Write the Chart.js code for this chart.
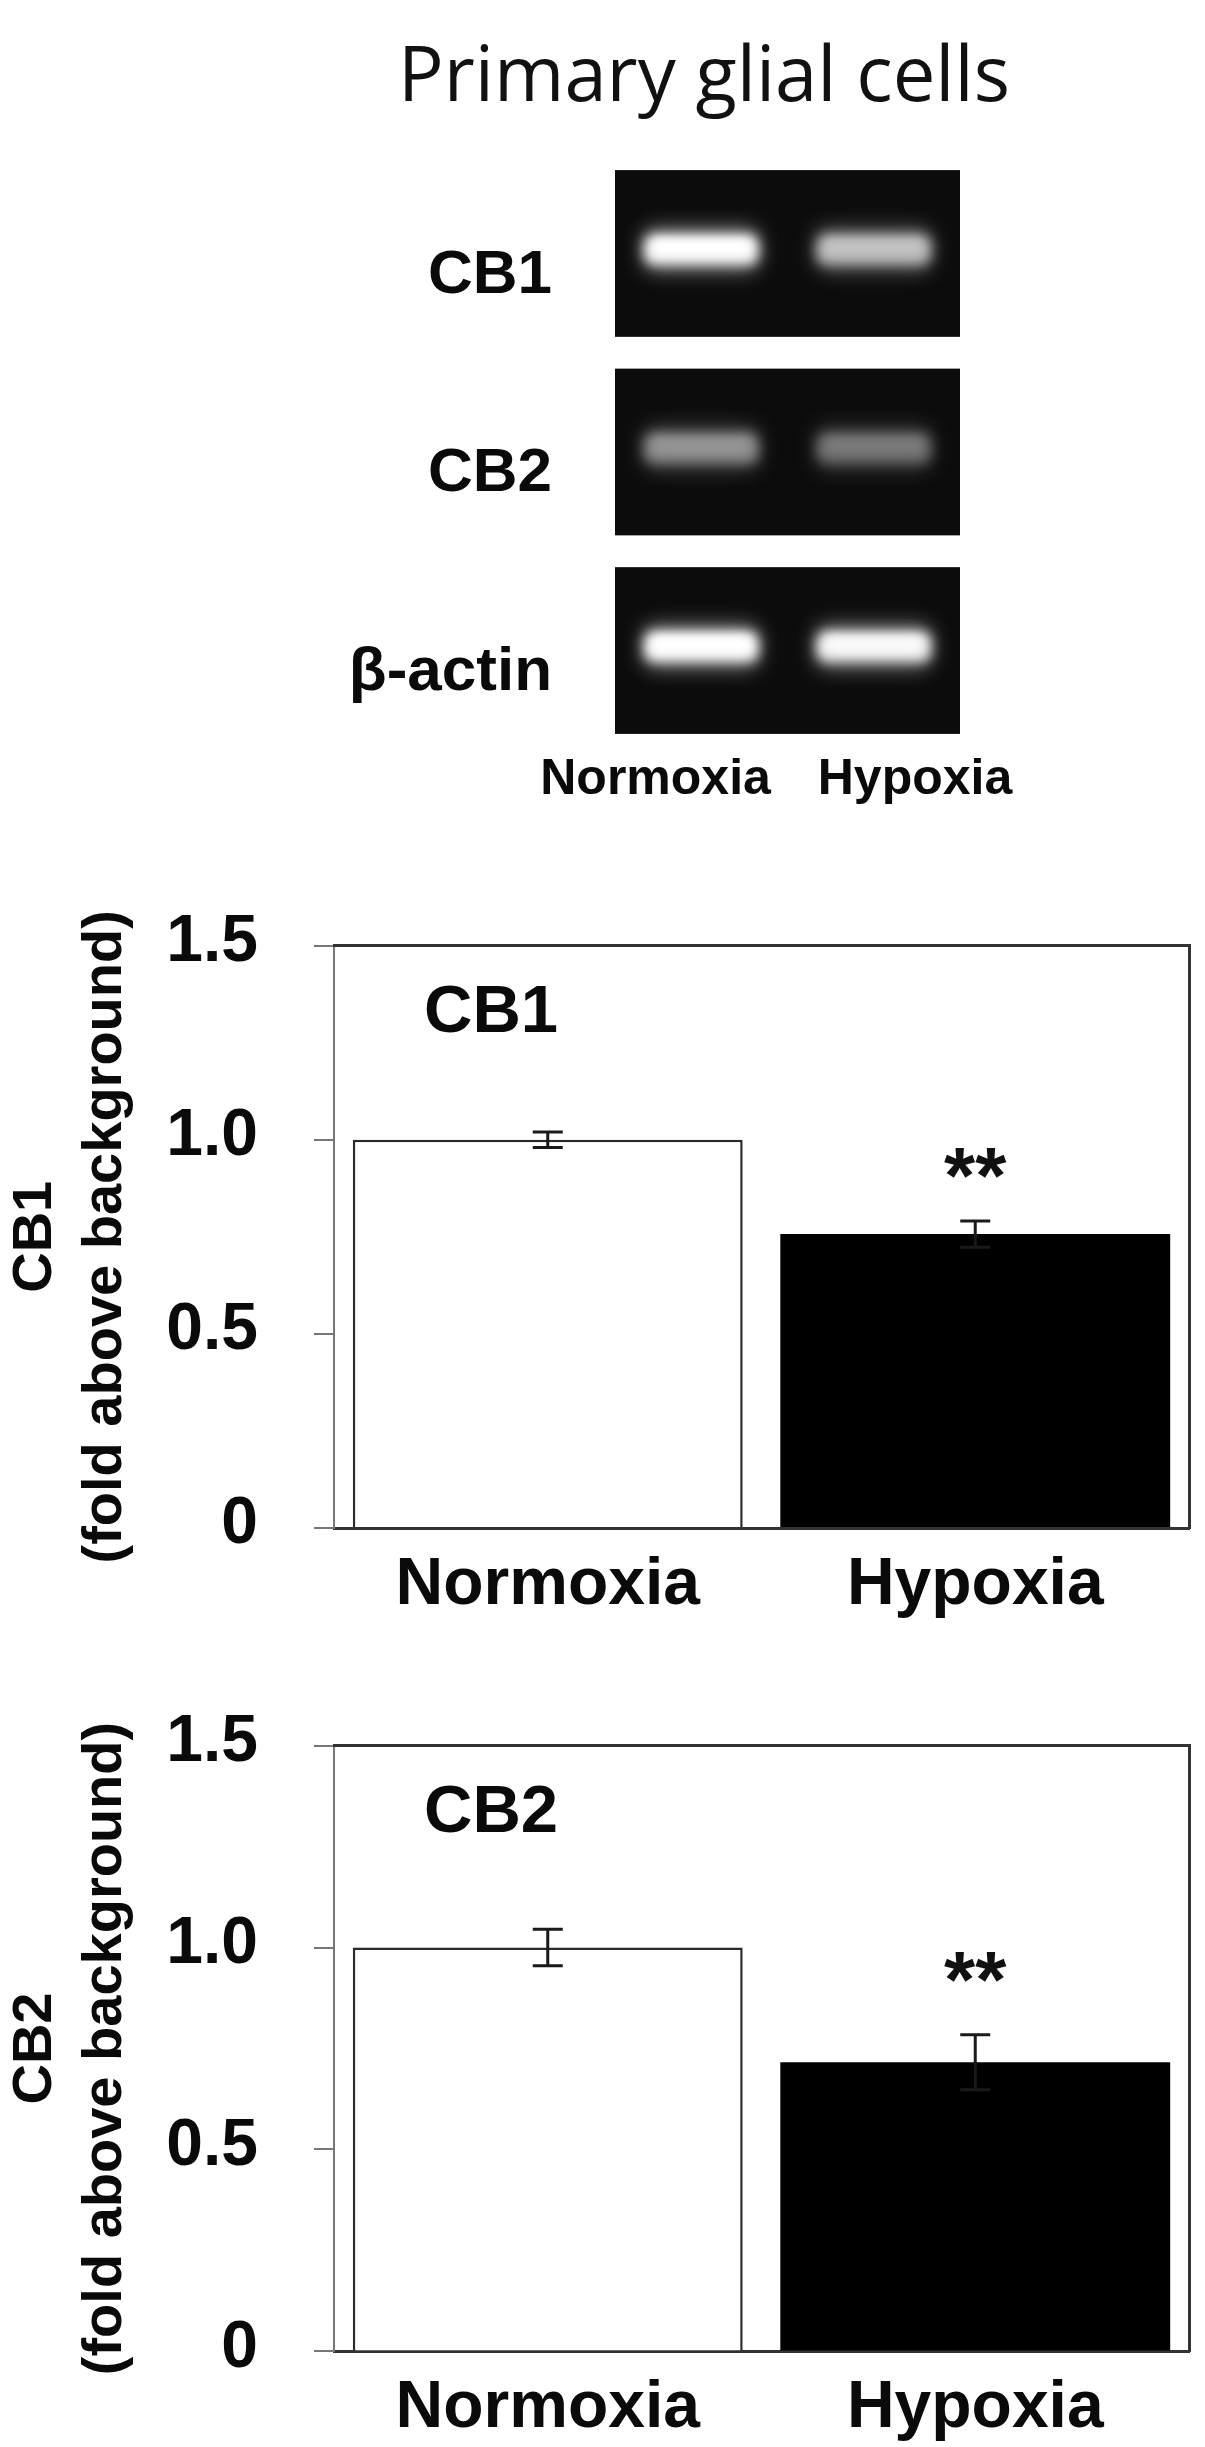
<!DOCTYPE html>
<html>
<head>
<meta charset="utf-8">
<script src="https://cdn.jsdelivr.net/npm/chart.js@4.4.0/dist/chart.umd.min.js"></script>
<style>
  body { margin: 0; background: #fff; width: 1205px; height: 2447px; position: relative; overflow: hidden; }
  canvas { position: absolute; }
</style>
</head>
<body>
<canvas id="gel" width="808" height="850" style="left:300px;top:0px"></canvas>
<canvas id="cb1" width="1205" height="800" style="left:0px;top:850px"></canvas>
<canvas id="cb2" width="1205" height="797" style="left:0px;top:1650px"></canvas>
<script>
// values
const conditions = ['Normoxia', 'Hypoxia'];
const gelRows = ['CB1', 'CB2', 'β-actin'];
const gelNormoxia = [0.95, 0.52, 0.97];   // band brightness 0..1
const gelHypoxia = [0.70, 0.42, 0.92];
const yTicks = [0, 0.5, 1.0, 1.5];
const cb1Mean = [1.0, 0.757];
const cb1Err = [0.02, 0.034];
const cb2Mean = [1.0, 0.716];
const cb2Err = [0.045, 0.068];
const cb1Stars = ['', '**'];
const cb2Stars = ['', '**'];

Chart.defaults.font.family = '"Liberation Sans", Arial, sans-serif';
Chart.defaults.color = '#0a0a0a';
Chart.defaults.animation = false;

const gelBands = {
    id: 'gelBands',
    beforeDatasetsDraw(chart) {
        const {ctx, chartArea: a, scales: {x, y}} = chart;
        const pitch = y.getPixelForValue(1) - y.getPixelForValue(0);
        const half = pitch * 0.42;
        const laneW = x.getPixelForValue(1) - x.getPixelForValue(0);
        ctx.save();
        gelRows.forEach((r, i) => {
            const cy = y.getPixelForValue(i);
            ctx.fillStyle = '#0c0c0c';
            ctx.fillRect(a.left, cy - half, a.right - a.left, half * 2);
        });
        const meta = chart.getDatasetMeta(0);
        const pts = chart.data.datasets[0].data;
        meta.data.forEach((el, j) => {
            const cy = el.y;
            ctx.save();
            ctx.beginPath();
            ctx.rect(a.left, cy - half, a.right - a.left, half * 2);
            ctx.clip();
            const g = Math.round(255 * pts[j].v);
            const w = laneW * 0.66, h = 30;
            // soft halo
            ctx.filter = 'blur(10px)';
            ctx.fillStyle = `rgba(${g},${g},${g},0.45)`;
            ctx.beginPath();
            ctx.roundRect(el.x - w * 0.52, cy - 4 - h * 0.75, w * 1.04, h * 1.5, 14);
            ctx.fill();
            // band core
            ctx.filter = 'blur(6px)';
            ctx.fillStyle = `rgb(${g},${g},${g})`;
            ctx.beginPath();
            ctx.roundRect(el.x - w / 2, cy - 4 - h / 2, w, h, 10);
            ctx.fill();
            ctx.filter = 'blur(4px)';
            const g2 = Math.min(255, g + 15);
            ctx.fillStyle = `rgb(${g2},${g2},${g2})`;
            ctx.beginPath();
            ctx.roundRect(el.x - w * 0.42, cy - 6 - h * 0.25, w * 0.84, h * 0.5, 6);
            ctx.fill();
            ctx.restore();
        });
        ctx.restore();
    }
};

new Chart(document.getElementById('gel'), {
    type: 'scatter',
    data: {
        datasets: [{
            data: gelRows.flatMap((row, i) => [
                {x: 0.5, y: row, v: gelNormoxia[i]},
                {x: 1.5, y: row, v: gelHypoxia[i]}
            ]),
            pointRadius: 0
        }]
    },
    options: {
        responsive: false,
        layout: {padding: 0},
        plugins: {
            legend: {display: false},
            tooltip: {enabled: false},
            title: {
                display: true,
                text: 'Primary glial cells',
                color: '#111',
                font: {family: '"Open Sans"', size: 76, weight: 'normal', lineHeight: 1.2},
                padding: {top: 34, bottom: 29}
            }
        },
        scales: {
            x: {
                type: 'linear', min: 0, max: 2,
                grid: {display: false, drawTicks: false},
                border: {display: false},
                afterBuildTicks: s => { s.ticks = [{value: 0.235}, {value: 1.739}]; },
                afterFit: s => { s.height = 79; },
                ticks: {
                    callback: (v, i) => conditions[i],
                    font: {size: 50, weight: 'bold'},
                    padding: 0,
                    maxRotation: 0
                }
            },
            y: {
                type: 'category',
                labels: gelRows,
                offset: true,
                grid: {display: false, drawTicks: false},
                border: {display: false},
                afterFit: s => { s.width = 315; },
                ticks: {font: {size: 62, weight: 'bold'}, padding: 63, labelOffset: 22}
            },
            yr: {
                type: 'linear', position: 'right',
                grid: {display: false, drawTicks: false},
                border: {display: false},
                ticks: {display: false},
                afterFit: s => { s.width = 148; }
            }
        }
    },
    plugins: [gelBands]
});

const barExtras = {
    id: 'barExtras',
    afterDatasetsDraw(chart, args, opts) {
        const {ctx, chartArea: a, scales: {y}} = chart;
        const meta = chart.getDatasetMeta(0);
        const means = chart.data.datasets[0].data;
        ctx.save();
        ctx.strokeStyle = '#1a1a1a';
        ctx.lineWidth = 3;
        meta.data.forEach((bar, i) => {
            const top = y.getPixelForValue(means[i] + opts.errors[i]);
            const bot = y.getPixelForValue(means[i] - opts.errors[i]);
            const w = 15;
            ctx.beginPath();
            ctx.moveTo(bar.x, top); ctx.lineTo(bar.x, bot);
            ctx.moveTo(bar.x - w, top); ctx.lineTo(bar.x + w, top);
            ctx.moveTo(bar.x - w, bot); ctx.lineTo(bar.x + w, bot);
            ctx.stroke();
            if (opts.stars[i]) {
                ctx.fillStyle = '#111';
                ctx.font = 'bold 80px "Liberation Sans"';
                ctx.textAlign = 'center';
                ctx.textBaseline = 'alphabetic';
                ctx.fillText(opts.stars[i], bar.x, y.getPixelForValue(opts.starAt) + 45);
            }
        });
        ctx.fillStyle = '#0a0a0a';
        ctx.font = 'bold 67px "Liberation Sans"';
        ctx.textAlign = 'left';
        ctx.textBaseline = 'alphabetic';
        ctx.fillText(opts.label, a.left + 90, a.top + 86);
        ctx.restore();
    }
};

function barChart(id, label, means, errs, stars, starAt, topPad, axisH) {
    return new Chart(document.getElementById(id), {
        type: 'bar',
        data: {
            labels: conditions,
            datasets: [{
                data: means,
                backgroundColor: ['#ffffff', '#000000'],
                borderColor: '#2a2a2a',
                borderWidth: [2.5, 0],
                categoryPercentage: 1,
                barPercentage: 0.912
            }]
        },
        options: {
            responsive: false,
            layout: {padding: {top: topPad, right: 16, left: 0, bottom: 0}},
            plugins: {
                legend: {display: false},
                tooltip: {enabled: false},
                barExtras: {label: label, errors: errs, stars: stars, starAt: starAt}
            },
            scales: {
                x: {
                    grid: {display: false, drawTicks: false},
                    border: {color: '#333', width: 3},
                    afterFit: s => { s.height = axisH; },
                    ticks: {font: {size: 66, weight: 'bold'}, padding: 18}
                },
                y: {
                    min: 0, max: 1.5,
                    afterBuildTicks: s => { s.ticks = yTicks.map(v => ({value: v})); },
                    afterFit: s => { s.width = 334; },
                    grid: {drawOnChartArea: false, drawTicks: true, tickLength: 20, color: '#777', lineWidth: 2},
                    border: {color: '#777', width: 2},
                    ticks: {
                        callback: v => v === 0 ? '0' : v.toFixed(1),
                        font: {size: 66, weight: 'bold'},
                        padding: 56,
                        labelOffset: -3
                    },
                    title: {
                        display: true,
                        text: [label, '(fold above background)'],
                        font: {size: 56, weight: 'bold', lineHeight: 1.25},
                        padding: {top: 1, bottom: 0}
                    }
                },
                xt: {
                    type: 'category', position: 'top',
                    grid: {display: false, drawTicks: false},
                    border: {color: '#333', width: 3},
                    ticks: {display: false},
                    afterFit: s => { s.height = 0; }
                },
                yr: {
                    type: 'linear', position: 'right',
                    grid: {display: false, drawTicks: false},
                    border: {color: '#333', width: 3},
                    ticks: {display: false},
                    afterFit: s => { s.width = 0; }
                }
            }
        },
        plugins: [barExtras]
    });
}

barChart('cb1', 'CB1', cb1Mean, cb1Err, cb1Stars, 0.953, 65, 122);
barChart('cb2', 'CB2', cb2Mean, cb2Err, cb2Stars, 0.965, 93, 91);
</script>
</body>
</html>
